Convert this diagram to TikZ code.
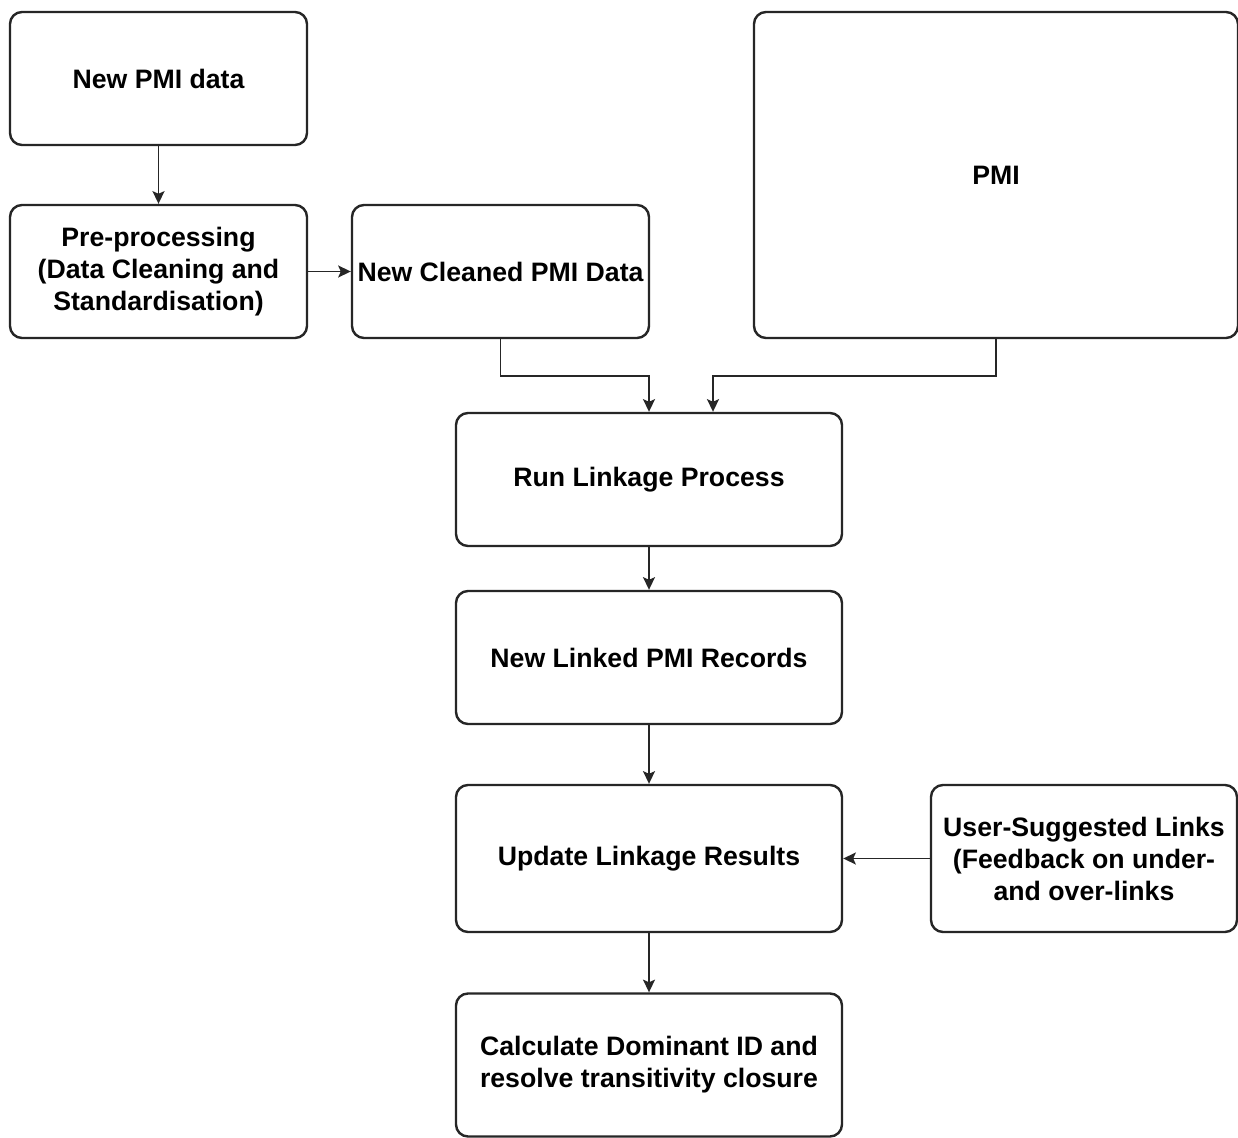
\documentclass[tikz,border=0pt]{standalone}
\usepackage{fontspec}
\setmainfont{Liberation Sans}
\usetikzlibrary{arrows.meta,calc}
\begin{document}
\begin{tikzpicture}[x=0.75pt,y=-0.75pt,
  box/.style={draw=black!85, line width=1.8pt, rounded corners=9pt, fill=white,
    align=center, inner sep=2pt,
    font=\fontsize{20pt}{24pt}\selectfont\bfseries},
  arr/.style={draw=black!85, line width=1.2pt, -{Stealth[length=9.5pt,width=9pt,inset=2pt]}}]
\useasboundingbox[fill=white] (0,0) rectangle (1238,1138);
\node[box, minimum width=222.75pt, minimum height=99.75pt] (A) at (158.5,78.5) {New PMI data};
\node[box, minimum width=222.75pt, minimum height=99.75pt] (B) at (158.5,271.5) {Pre-processing\\(Data Cleaning and\\Standardisation)};
\node[box, minimum width=222.75pt, minimum height=99.75pt] (C) at (500.5,271.5) {New Cleaned PMI Data};
\node[box, minimum width=363pt, minimum height=244.5pt] (D) at (996,175) {PMI};
\node[box, minimum width=289.5pt, minimum height=99.75pt] (E) at (649,479.5) {Run Linkage Process};
\node[box, minimum width=289.5pt, minimum height=99.75pt] (F) at (649,657.5) {New Linked PMI Records};
\node[box, minimum width=289.5pt, minimum height=110.25pt] (G) at (649,858.5) {Update Linkage Results};
\node[box, minimum width=229.5pt, minimum height=110.25pt] (H) at (1084,858.5) {User-Suggested Links\\(Feedback on under-\\and over-links};
\node[box, minimum width=289.5pt, minimum height=107.25pt] (I) at (649,1065) {Calculate Dominant ID and\\resolve transitivity closure};
\draw[arr] (A.south) -- (B.north);
\draw[arr] (B.east) -- (C.west);
\draw[arr] (C.south) -- ++(0,37) -| (E.north);
\draw[arr] (D.south) -- ++(0,37) -| ($(E.north)+(64,0)$);
\draw[arr] (E.south) -- (F.north);
\draw[arr] (F.south) -- (G.north);
\draw[arr] (G.south) -- (I.north);
\draw[arr] (H.west) -- (G.east);
\end{tikzpicture}
\end{document}
